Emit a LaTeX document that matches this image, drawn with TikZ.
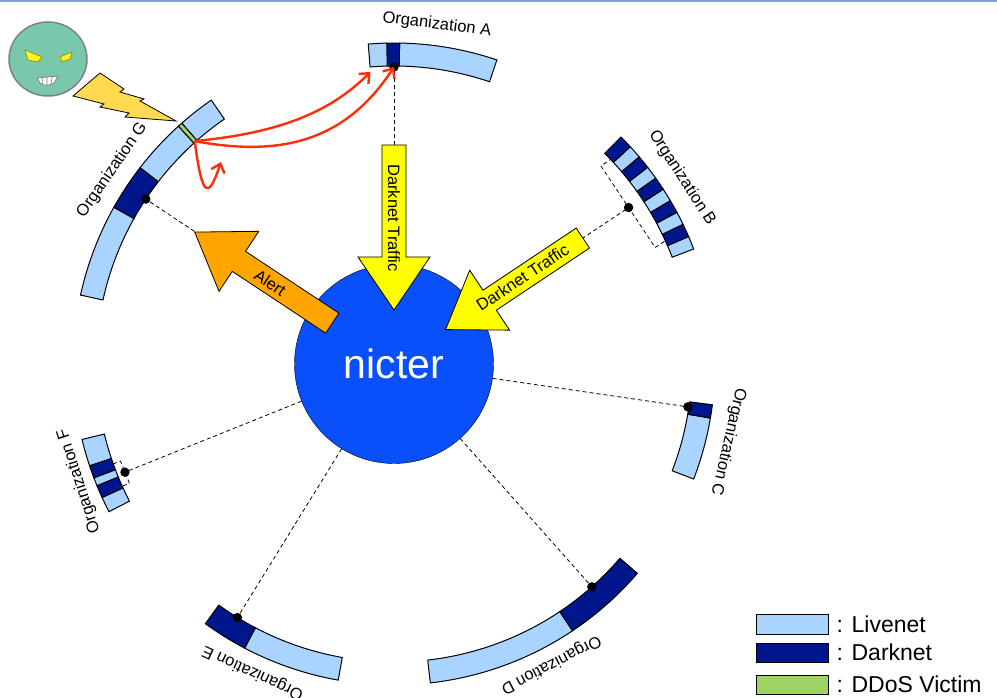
\documentclass[tikz,border=0pt]{standalone}
\usepackage{fontspec}
\setmainfont{Liberation Sans}
\usetikzlibrary{arrows.meta,positioning}
\definecolor{livenet}{RGB}{168,212,255}
\definecolor{darknet}{RGB}{0,22,140}
\definecolor{victim}{RGB}{160,210,100}
\definecolor{nictblue}{RGB}{10,80,250}
\definecolor{alertorange}{RGB}{255,165,0}
\definecolor{trafficyellow}{RGB}{255,255,0}
\definecolor{redarrow}{RGB}{255,45,10}
\definecolor{boltyellow}{RGB}{255,218,80}
\definecolor{facegreen}{RGB}{122,200,172}
\definecolor{topline}{RGB}{125,160,210}
\tikzset{x=1pt,y=1pt,>={Straight Barb[length=8pt,width=14pt]}}
\tikzset{orgband/.style={draw,line width=1pt},
    netline/.style={dash pattern=on 4pt off 3pt,line width=0.8pt},
    orglabel/.style={font=\fontsize{16.5}{18}\selectfont,inner sep=0pt},
    arrowtext/.style={font=\fontsize{16.5}{18}\selectfont,inner sep=0pt},
    attack/.style={->,draw=redarrow,line width=2.4pt},
    netdot/.style={circle,fill=black,inner sep=0pt,minimum size=9.4pt},
    legendbox/.style={draw,line width=1pt,minimum width=72pt,minimum height=19pt,inner sep=0pt},
    legendtext/.style={font=\fontsize{23}{25}\selectfont,inner sep=0pt}}
% one piece of an organization's address ring
\newcommand\ringseg[3]{\draw[orgband,fill=#3] ([shift={(#1:321)}]c) arc[start angle=#1,end angle=#2,radius=321]
    -- ([shift={(#2:298)}]c) arc[start angle=#2,end angle=#1,radius=298] -- cycle;}
% block arrow along a ray from c: angle, tail, head base, tip, colour
\newcommand\bigarrow[5]{\begin{scope}[shift={(c)},rotate=#1]
    \draw[fill=#5,line width=0.8pt] (#2,12) -- (#3,12) -- (#3,36) -- (#4,0) -- (#3,-36) -- (#3,-12) -- (#2,-12) -- cycle;
    \end{scope}}
\begin{document}
\begin{tikzpicture}
\useasboundingbox (0,0) rectangle (997,697);
\draw[topline,line width=2pt] (0,696) -- (997,696);
\coordinate (c) at (394,333);
\node[circle,draw,fill=nictblue,minimum size=199pt,inner sep=0pt,text=white,font=\fontsize{41}{45}\selectfont] (nicter) at (c) {nicter};

\coordinate (dotA) at ([shift={(90:297)}]c);
\coordinate (dotB) at ([shift={(33.7:282)}]c);
\coordinate (dotC) at ([shift={(-8.3:297)}]c);
\coordinate (dotD) at ([shift={(-48.4:298)}]c);
\coordinate (dotE) at ([shift={(238.3:298)}]c);
\coordinate (dotF) at ([shift={(201.9:290)}]c);
\coordinate (dotG) at ([shift={(146.4:298)}]c);
\foreach \o in {A,B,C,D,E,F,G}
    \draw[netline] (nicter) -- (dot\o);

\begin{scope}[shift={(c)},rotate=33.7]
    \draw[netline] (296,50) -- (282,50) -- (282,-48) -- (296,-48);
\end{scope}
\begin{scope}[shift={(c)},rotate=201.9]
    \draw[netline] (297,12) -- (290,12) -- (290,-12) -- (297,-12);
\end{scope}

% organization A
\ringseg{71.3}{89}{livenet}
\ringseg{89}{91.3}{darknet}
\ringseg{91.3}{94.6}{livenet}
% organization B
\foreach \i in {0,...,9}{
    \pgfmathsetmacro\lo{21+2.4*\i}
    \pgfmathsetmacro\hi{\lo+2.4}
    \ifodd\i \ringseg{\lo}{\hi}{darknet}\else \ringseg{\lo}{\hi}{livenet}\fi}
% organization C
\ringseg{-21}{-9.7}{livenet}
\ringseg{-9.7}{-7.3}{darknet}
% organization D
\ringseg{-83.5}{-56.2}{livenet}
\ringseg{-56.2}{-40.7}{darknet}
% organization E
\ringseg{234}{242.3}{darknet}
\ringseg{242.3}{260}{livenet}
% organization F
\ringseg{193.6}{198.5}{livenet}
\ringseg{198.5}{200.8}{darknet}
\ringseg{200.8}{202.3}{livenet}
\ringseg{202.3}{204.6}{darknet}
\ringseg{204.6}{207.4}{livenet}
% organization G
\ringseg{124.7}{131.4}{livenet}
\ringseg{131.4}{132.2}{victim}
\ringseg{132.2}{142.3}{livenet}
\ringseg{142.3}{150.8}{darknet}
\ringseg{150.8}{167.6}{livenet}

\foreach \o in {A,B,C,D,E,F,G}
    \node[netdot] at (dot\o) {};

\bigarrow{90}{219}{107}{54}{trafficyellow}
\bigarrow{33.7}{227}{115}{62}{trafficyellow}
\bigarrow{146.5}{74}{186}{239}{alertorange}
\node[arrowtext,rotate=-90] (trafficA) at ([shift={(90:146)}]c) {Darknet Traffic};
\node[arrowtext,rotate=33.7] (trafficB) at ([shift={(34:155)}]c) {Darknet Traffic};
\node[arrowtext,rotate=-33.5] (alert) at ([shift={(146.8:148)}]c) {Alert};

% DDoS reflected from G
\coordinate (victimG) at ([shift={(131.8:299)}]c);
\coordinate (hitA) at ([shift={(94.6:293)}]c);
\coordinate (hook) at (221,535);
\draw[attack] (victimG) .. controls (290,565) and (335,590) .. (hitA);
\draw[attack] (victimG) .. controls (280,540) and (345,555) .. (dotA);
\draw[attack] (victimG) .. controls (202,500) and (208,496) .. (hook);

% attacker
\draw[fill=boltyellow,line width=0.8pt] (73,601) -- (100,624) -- (124,608) -- (120,605) -- (144,598)
    -- (140,596) -- (176,576) -- (125,580) -- (129,584) -- (100,590) -- (104,593) -- cycle;
\draw[fill=facegreen,draw=gray,line width=1.5pt] (48,638) ellipse[x radius=39,y radius=37];
\draw[fill=yellow!85!white,draw=olive,line width=0.6pt] (25,647) -- (42,640) -- (38,635) -- (28,637) -- cycle;
\draw[fill=yellow!85!white,draw=olive,line width=0.6pt] (72,645) -- (60,640) -- (62,635) -- (70,638) -- cycle;
\draw[fill=white,draw=gray,line width=0.8pt] (37,619) -- (58,621) -- (54,614) -- (49,612) -- (44,612) -- (40,614) -- cycle;
\draw[gray,line width=0.6pt] (42,620) -- (43,613) (47,620) -- (47,612) (52,620) -- (51,613);

\node[orglabel,rotate=-7.2] (orgA) at ([shift={(82.8:342)}]c) {Organization A};
\node[orglabel,rotate=-57.1] (orgB) at ([shift={(32.9:343)}]c) {Organization B};
\node[orglabel,rotate=-103.1] (orgC) at ([shift={(-13.1:343)}]c) {Organization C};
\node[orglabel,rotate=-152.4] (orgD) at ([shift={(-62.4:339)}]c) {Organization D};
\node[orglabel,rotate=155.4] (orgE) at ([shift={(245.4:339)}]c) {Organization E};
\node[orglabel,rotate=108] (orgF) at ([shift={(200.4:336)}]c) {Organization F};
\node[orglabel,rotate=55.5] (orgG) at ([shift={(145.5:342)}]c) {Organization G};

\node[legendbox,fill=livenet] (keylive) at (792,72.5) {};
\node[legendbox,fill=darknet] (keydark) at (792,44.5) {};
\node[legendbox,fill=victim] (keyvictim) at (792,12.5) {};
\node[legendtext,anchor=west,right=8pt of keylive] (txtlive) {: Livenet};
\node[legendtext,anchor=west,right=8pt of keydark] (txtdark) {: Darknet};
\node[legendtext,anchor=west,right=8pt of keyvictim] (txtvictim) {: DDoS Victim};
\end{tikzpicture}
\end{document}
